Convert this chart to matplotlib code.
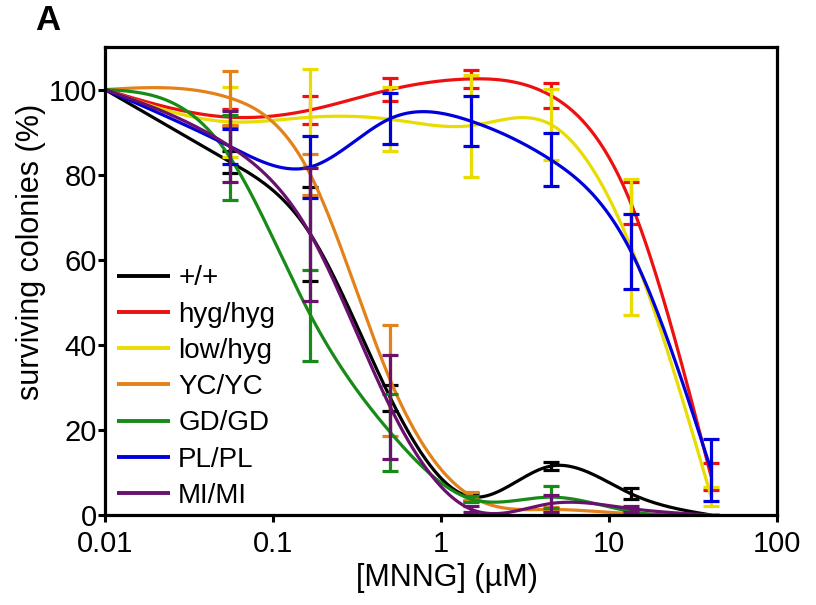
import numpy as np
import matplotlib
matplotlib.use("Agg")
import matplotlib.pyplot as plt

plt.rcParams['font.family'] = ['Liberation Sans', 'DejaVu Sans']

# ---- data ----
dose = [0.01, 0.0556, 0.167, 0.5, 1.5, 4.5, 13.5, 40.5]
labels = ['+/+', 'hyg/hyg', 'low/hyg', 'YC/YC', 'GD/GD', 'PL/PL', 'MI/MI']
colors = ['#000000', '#ee1010', '#e8dc00', '#e3821a', '#178a17', '#0000dd', '#6a106e']

wt_mean = [100, 83.0, 66.0, 27.5, 4.3, 11.5, 5.0, 0.0]
wt_err = [0, 2.5, 11.0, 3.0, 0.9, 1.0, 1.3, 0]
hyg_mean = [100, 93.5, 95.2, 100.0, 102.5, 98.6, 73.3, 9.1]
hyg_err = [0, 2.0, 3.2, 2.6, 2.2, 3.0, 4.9, 3.2]
low_mean = [100, 92.4, 93.5, 93.0, 91.5, 91.8, 63.0, 4.4]
low_err = [0, 8.2, 11.4, 7.5, 12.0, 8.4, 16.0, 2.2]
yc_mean = [100, 98.0, 80.0, 31.6, 4.5, 1.3, 0.3, 0.0]
yc_err = [0, 6.4, 4.8, 13.0, 1.0, 0.5, 0.3, 0]
gd_mean = [100, 84.0, 47.0, 19.4, 3.8, 4.2, 0.8, 0.0]
gd_err = [0, 10.0, 10.7, 9.0, 0.7, 2.6, 0.5, 0]
pl_mean = [100, 86.6, 81.8, 93.2, 92.6, 83.5, 62.0, 10.6]
pl_err = [0, 4.2, 7.3, 6.0, 5.8, 6.2, 8.8, 7.2]
mi_mean = [100, 86.6, 66.0, 25.3, 1.4, 2.7, 1.5, 0.0]
mi_err = [0, 8.4, 15.6, 12.2, 0.6, 1.9, 0.7, 0]

means = [wt_mean, hyg_mean, low_mean, yc_mean, gd_mean, pl_mean, mi_mean]
errs = [wt_err, hyg_err, low_err, yc_err, gd_err, pl_err, mi_err]


def natural_spline(x, y, xs):
    x = np.asarray(x, float)
    y = np.asarray(y, float)
    n = len(x)
    h = np.diff(x)
    A = np.zeros((n, n))
    b = np.zeros(n)
    A[0, 0] = 1
    A[-1, -1] = 1
    for i in range(1, n - 1):
        A[i, i - 1] = h[i - 1]
        A[i, i] = 2 * (h[i - 1] + h[i])
        A[i, i + 1] = h[i]
        b[i] = 6 * ((y[i + 1] - y[i]) / h[i] - (y[i] - y[i - 1]) / h[i - 1])
    M = np.linalg.solve(A, b)
    out = np.empty_like(xs)
    idx = np.clip(np.searchsorted(x, xs) - 1, 0, n - 2)
    for k, (xv, i) in enumerate(zip(xs, idx)):
        t1 = x[i + 1] - xv
        t0 = xv - x[i]
        hi = h[i]
        out[k] = (M[i] * t1 ** 3 / (6 * hi) + M[i + 1] * t0 ** 3 / (6 * hi)
                  + (y[i] / hi - M[i] * hi / 6) * t1
                  + (y[i + 1] / hi - M[i + 1] * hi / 6) * t0)
    return out


fig = plt.figure(figsize=(8.16, 6.05), dpi=100)
ax = fig.add_axes([105 / 816, 1 - 515 / 605, (777 - 105) / 816, (515 - 47) / 605])

lx = np.log10(dose)
xs_log = np.linspace(lx[0], lx[-1], 400)
xs = 10 ** xs_log

for lab, col, m, e in zip(labels, colors, means, errs):
    ys = natural_spline(lx, m, xs_log)
    ax.plot(xs, ys, color=col, lw=2.3, label=lab, solid_capstyle='butt')
    ax.errorbar(dose[1:], m[1:], yerr=e[1:], fmt='none', ecolor=col,
                elinewidth=2.3, capsize=5.8, capthick=2.3)

ax.set_xscale('log')
ax.set_xlim(0.01, 100)
ax.set_ylim(0, 110)
ax.set_xticks([0.01, 0.1, 1, 10, 100])
ax.set_xticklabels(['0.01', '0.1', '1', '10', '100'])
ax.xaxis.set_minor_locator(matplotlib.ticker.NullLocator())
ax.set_yticks([0, 20, 40, 60, 80, 100])
ax.tick_params(axis='both', which='major', direction='out', length=5,
               width=2.2, labelsize=21, pad=1, colors='black')
ax.tick_params(axis='x', pad=6)
for s in ax.spines.values():
    s.set_linewidth(2.3)

fig.text(447 / 816, 1 - 578 / 605, '[MNNG] (µM)', fontsize=22,
         ha='center', va='center')
fig.text(31 / 816, 1 - 252 / 605, 'surviving colonies (%)', fontsize=22,
         ha='center', va='center', rotation=90)
fig.text(48 / 816, 1 - 20 / 605, 'A', fontsize=25, fontweight='bold',
         ha='center', va='center')

leg = ax.legend(loc='upper left', bbox_to_anchor=(-0.011, 0.575), frameon=False,
                fontsize=20, handlelength=1.9, handletextpad=0.3,
                labelspacing=0.37, borderaxespad=0.3)
for ln in leg.get_lines():
    ln.set_linewidth(2.8)

fig.savefig('out.png', dpi=100)
